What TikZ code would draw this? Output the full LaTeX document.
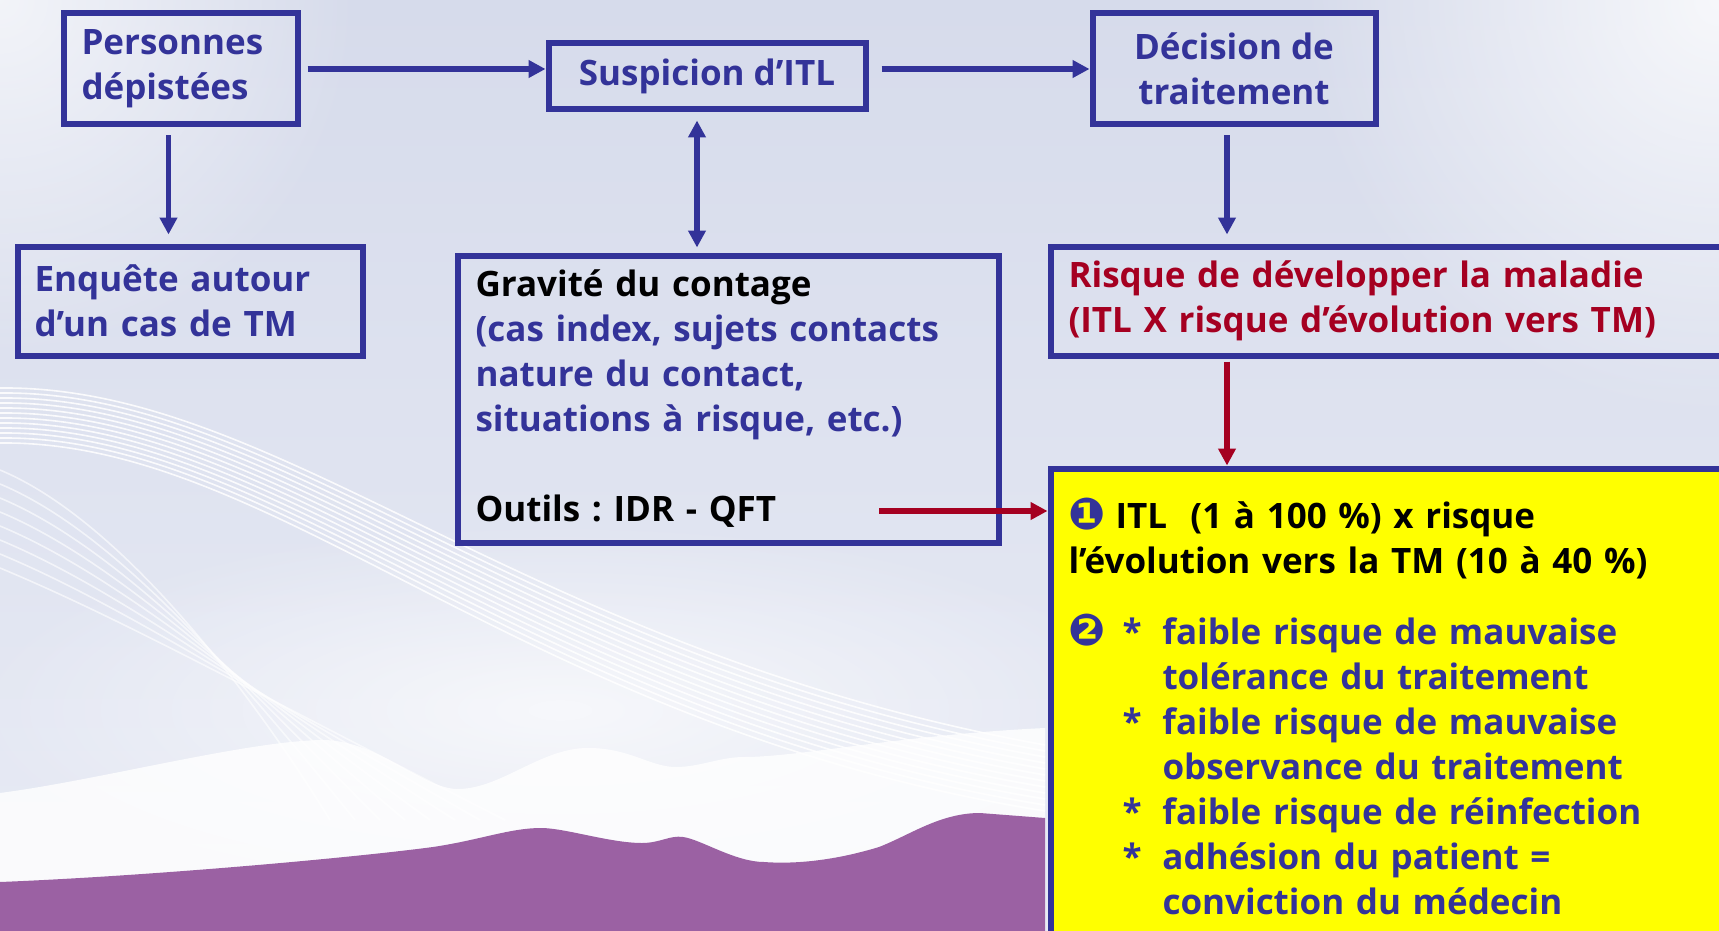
\documentclass[tikz,border=0pt]{standalone}
\usepackage{fontspec}
\setmainfont{Open Sans}
\newfontfamily\dingfont{DejaVu Sans}
\usepackage{xcolor}
\usetikzlibrary{arrows.meta, positioning, calc, fadings}
\definecolor{itlblue}{RGB}{51,51,153}
\definecolor{itlred}{RGB}{165,0,33}
\definecolor{itlyellow}{RGB}{255,255,0}
\definecolor{hillpurple}{RGB}{155,97,163}
\definecolor{bgtop}{RGB}{214,219,235}
\definecolor{bgmid}{RGB}{195,197,222}
\definecolor{bglow}{RGB}{232,235,245}
\tikzfading[name=glowfade, inner color=transparent!0, outer color=transparent!100]
\newcommand{\numbul}[1]{\raisebox{-1pt}{\dingfont\fontsize{44pt}{45pt}\selectfont\color{itlblue}#1}}
\newcommand{\ptitem}[2]{\makebox[54pt][l]{#1}\makebox[40pt][l]{#2}}

\begin{document}
\frenchspacing
\begin{tikzpicture}[x=1pt, y=-1pt,
      box/.style   = {draw=itlblue, line width=6pt, text=itlblue,
                      font=\bfseries\fontsize{35pt}{45pt}\selectfont},
      arrow/.style = {-{Triangle[length=17pt, width=17pt]}, line width=5.5pt, draw=itlblue},
      twoway/.style= {arrow, {Triangle[length=17pt, width=17pt]}-{Triangle[length=17pt, width=17pt]}},
      redarrow/.style = {arrow, draw=itlred},
      wave/.style  = {white, opacity=0.85, line width=1.6pt}
    ]
    \useasboundingbox (0,0) rectangle (1719,931);
    \clip (0,0) rectangle (1719,931);

    \fill[top color=bgtop, middle color=bgmid, bottom color=bglow] (0,0) rectangle (1719,931);
    \fill[white, path fading=glowfade, opacity=0.7] (0,0) circle (360);
    \fill[white, path fading=glowfade, opacity=0.8] (1719,0) circle (420);
    \fill[white, path fading=glowfade, opacity=0.7] (560,710) ellipse (600 and 190);
    \foreach \i in {0,...,11}
      \draw[wave] (0,388+5*\i) .. controls (280,385+5*\i) and (520,650+7*\i) .. (1045,745+6*\i);
    \foreach \i in {0,...,7}
      \draw[wave, opacity=0.6] (0,470+14*\i) .. controls (120,520+14*\i) and (250,690) .. (330+25*\i,820);
    \fill[white, opacity=0.8] (0,793) .. controls (100,780) and (250,740) .. (325,740)
      .. controls (380,742) and (420,787) .. (456,789) .. controls (500,790) and (540,748) .. (588,748)
      .. controls (630,748) and (650,767) .. (676,767) .. controls (700,767) and (720,757) .. (744,757)
      .. controls (800,757) and (900,735) .. (1045,728) -- (1045,931) -- (0,931) -- cycle;
    \fill[hillpurple] (0,882) .. controls (150,876) and (350,858) .. (433,847)
      .. controls (480,840) and (510,828) .. (541,828) .. controls (565,828) and (610,843) .. (642,843)
      .. controls (660,843) and (670,835) .. (683,837) .. controls (700,839) and (735,862) .. (764,862)
      .. controls (790,864) and (830,862) .. (879,847) .. controls (910,835) and (940,813) .. (980,813)
      -- (1045,818) -- (1045,931) -- (0,931) -- cycle;

    \node[box, align=left, text width=198pt, minimum width=234pt, minimum height=111pt]
      (pers) at (180.5,69) {Personnes\\dépistées};
    \node[box, align=center, minimum width=317pt, minimum height=66pt]
      (susp) at (707,76.5) {Suspicion d’ITL};
    \node[box, align=center, minimum width=283pt, minimum height=111pt]
      (dec) at (1234,69) {Décision de\\traitement};
    \node[box, align=left, text width=311pt, inner xsep=17pt, minimum height=109pt]
      (enq) at (190,301) {Enquête autour\\d’un cas de TM};
    \node[box, align=left, text width=505pt, inner xsep=18pt, minimum height=287pt]
      (grav) at (728,399) {{\color{black}Gravité du contage}\\(cas index, sujets contacts\\nature du contact,\\situations à risque, etc.)\\[45pt]{\color{black}Outils : IDR - QFT}};
    \node[box, align=left, text=itlred, text width=760pt, inner xsep=18pt, minimum height=109pt, anchor=west]
      (risk) at (1047.5,301) {Risque de développer la maladie\\(ITL X risque d’évolution vers TM)};
    \node[box, fill=itlyellow, align=left, text width=760pt, inner xsep=18pt, inner ysep=30pt,
          text depth=480pt, anchor=north west]
      (ltbi) at (1047.5,465.5) {\makebox[47pt][l]{\numbul{❶}}{\color{black}ITL\ \ (1 à 100 \%) x risque}\\
        {\color{black}l’évolution vers la TM (10 à 40 \%)}\\[26pt]
        \ptitem{\numbul{❷}}{*}faible risque de mauvaise\\
        \ptitem{}{}tolérance du traitement\\
        \ptitem{}{*}faible risque de mauvaise\\
        \ptitem{}{}observance du traitement\\
        \ptitem{}{*}faible risque de réinfection\\
        \ptitem{}{*}adhésion du patient =\\
        \ptitem{}{}conviction du médecin};
    \coordinate (outils) at (879,511);

    \draw[arrow, shorten <=7pt] (pers.east) -- (pers.east -| susp.west);
    \draw[arrow, shorten <=13pt] (susp.east |- dec.west) -- (dec.west);
    \draw[arrow, shorten <=8pt, shorten >=9pt] ([xshift=-12pt]pers.south) -- ([xshift=-12pt]pers.south |- enq.north);
    \draw[twoway, shorten <=8pt, shorten >=5pt] ([xshift=-10pt]susp.south) -- ([xshift=-10pt]susp.south |- grav.north);
    \draw[arrow, shorten <=8pt, shorten >=9pt] ([xshift=-7pt]dec.south) -- ([xshift=-7pt]dec.south |- risk.north);
    \draw[redarrow, shorten <=3pt] ([xshift=-7pt]dec.south |- risk.south) -- ([xshift=-7pt]dec.south |- ltbi.north);
    \draw[redarrow] (outils) -- (outils -| ltbi.west);
  \end{tikzpicture}
\end{document}
